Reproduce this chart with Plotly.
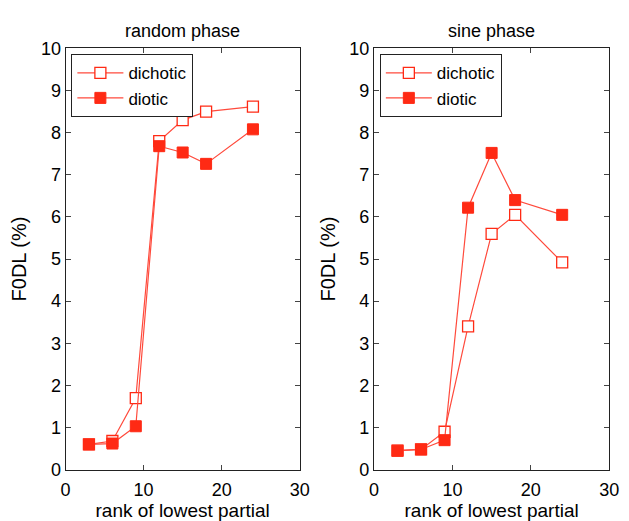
import plotly.graph_objects as go

# rank of lowest partial
rank = [3, 6, 9, 12, 15, 18, 24]

# F0DL (%) — random phase
random_dichotic = [0.60, 0.68, 1.70, 7.80, 8.30, 8.50, 8.62]
random_diotic = [0.60, 0.62, 1.03, 7.68, 7.53, 7.26, 8.08]

# F0DL (%) — sine phase
sine_dichotic = [0.45, 0.48, 0.90, 3.40, 5.60, 6.05, 4.92]
sine_diotic = [0.45, 0.48, 0.70, 6.22, 7.52, 6.40, 6.05]

panel_titles = ["random phase", "sine phase"]
series_names = ["dichotic", "diotic"]

RED = "#ff2a14"
LINE_RED = "#ff4a3c"
FONT = "Liberation Sans, Arial, sans-serif"

fig = go.Figure()

panels = [
    ("x", "y", "legend", random_dichotic, random_diotic),
    ("x2", "y2", "legend2", sine_dichotic, sine_diotic),
]
for xa, ya, lg, dich, diot in panels:
    fig.add_trace(go.Scatter(
        x=rank, y=dich, name=series_names[0], mode="lines+markers",
        xaxis=xa, yaxis=ya, legend=lg,
        line=dict(color=LINE_RED, width=1.2),
        marker=dict(symbol="square", size=11, color="white",
                    line=dict(color=RED, width=1.3)),
    ))
    fig.add_trace(go.Scatter(
        x=rank, y=diot, name=series_names[1], mode="lines+markers",
        xaxis=xa, yaxis=ya, legend=lg,
        line=dict(color=LINE_RED, width=1.2),
        marker=dict(symbol="square", size=11, color=RED,
                    line=dict(color=RED, width=1)),
    ))

W, H = 629, 521
left_dom = [62 / W, 302 / W]
right_dom = [378 / W, 619 / W]
y_dom = [1 - 478 / H, 1 - 40 / H]

axis_common = dict(
    showgrid=False, zeroline=False, showline=True, linecolor="#222",
    linewidth=1, mirror="ticks", ticks="inside", ticklen=5,
    tickcolor="#444", tickwidth=1,
    tickfont=dict(family=FONT, size=18, color="black"),
)
xaxis_common = dict(axis_common, range=[0, 30], tickvals=[0, 10, 20, 30],
                    ticklabelstandoff=4,
                    title=dict(text="rank of lowest partial", standoff=4,
                               font=dict(family=FONT, size=19, color="black")))
yaxis_common = dict(axis_common, range=[0, 10], tickvals=list(range(11)),
                    title=dict(text="F0DL (%)", standoff=8,
                               font=dict(family=FONT, size=20, color="black")))

legend_common = dict(
    xanchor="left", yanchor="top", bgcolor="white",
    bordercolor="#222", borderwidth=1,
    font=dict(family=FONT, size=17, color="black"),
    tracegroupgap=0, itemwidth=46,
)

fig.update_layout(
    width=W, height=H,
    margin=dict(l=0, r=0, t=0, b=0),
    paper_bgcolor="white", plot_bgcolor="white",
    xaxis=dict(xaxis_common, domain=left_dom, anchor="y"),
    yaxis=dict(yaxis_common, domain=y_dom, anchor="x"),
    xaxis2=dict(xaxis_common, domain=right_dom, anchor="y2"),
    yaxis2=dict(yaxis_common, domain=y_dom, anchor="x2"),
    legend=dict(legend_common, x=68 / W, y=1 - 46 / H),
    legend2=dict(legend_common, x=384 / W, y=1 - 46 / H),
    annotations=[
        dict(text=panel_titles[0], x=(left_dom[0] + left_dom[1]) / 2,
             y=1 - 22 / H, xref="paper", yref="paper", showarrow=False,
             xanchor="center", yanchor="middle",
             font=dict(family=FONT, size=18, color="black")),
        dict(text=panel_titles[1], x=(right_dom[0] + right_dom[1]) / 2,
             y=1 - 22 / H, xref="paper", yref="paper", showarrow=False,
             xanchor="center", yanchor="middle",
             font=dict(family=FONT, size=18, color="black")),
    ],
)

fig.write_html("out.html")
